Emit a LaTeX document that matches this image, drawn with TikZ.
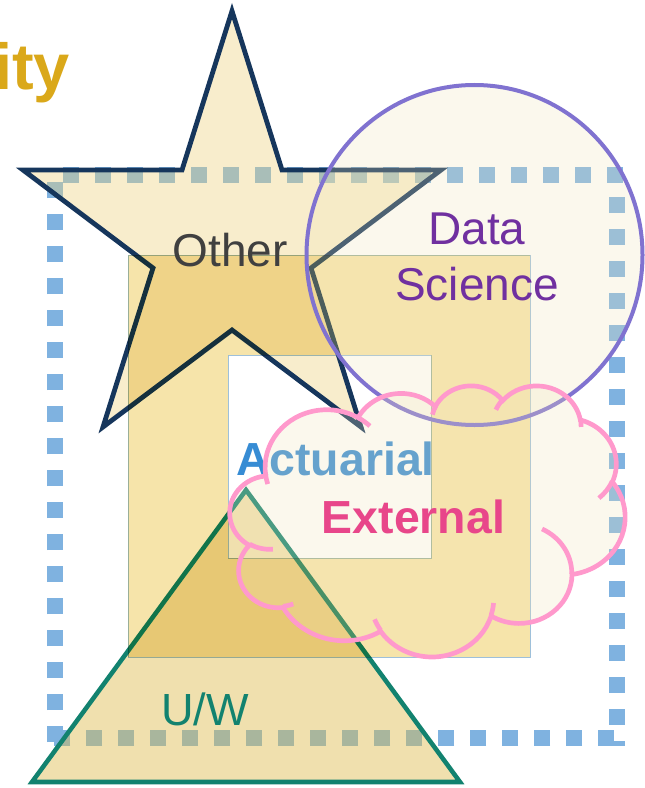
\documentclass[tikz,border=0pt]{standalone}
\usepackage{fontspec}
\setmainfont{Liberation Sans}
\definecolor{goldtxt}{RGB}{218,168,26}
\definecolor{othertxt}{RGB}{64,64,64}
\definecolor{dstxt}{RGB}{112,48,160}
\definecolor{acttxt}{RGB}{55,140,212}
\definecolor{exttxt}{RGB}{232,70,138}
\definecolor{uwtxt}{RGB}{18,130,111}
\definecolor{starline}{RGB}{22,54,92}
\definecolor{starfill}{RGB}{239,210,121}
\definecolor{trifill}{RGB}{222,188,77}
\definecolor{rectfill}{RGB}{246,228,170}
\definecolor{rectline}{RGB}{160,196,228}
\definecolor{circline}{RGB}{128,114,208}
\definecolor{cloudline}{RGB}{255,153,204}
\definecolor{veil}{RGB}{243,231,187}
\definecolor{dotblue}{RGB}{127,178,224}
\newcommand\cvt[5]{%
  \pgfmathsetmacro\cvtA{atan2((#2)*sin(#4),(#3)*cos(#4))}%
  \pgfmathsetmacro\cvtB{atan2((#2)*sin((#4)+(#5)),(#3)*cos((#4)+(#5)))}%
  \pgfmathsetmacro\cvtD{\cvtB-(\cvtA)}%
  \pgfmathsetmacro\cvtD{ifthenelse(\cvtD<0,\cvtD+360,\cvtD)}%
  \expandafter\xdef\csname #1\endcsname{arc[start angle=\cvtA, delta angle=\cvtD, x radius=#2, y radius=#3]}%
}
\begin{document}
\begin{tikzpicture}[x=0.75pt,y=-0.75pt,
  lbl/.style={anchor=base, inner sep=0pt, font=\fontsize{34.5}{42}\selectfont},
  boldlbl/.style={lbl, font=\fontsize{34.8}{42}\selectfont\bfseries},
  dotline/.style={draw=dotblue, line width=11.5pt, dash pattern=on 12pt off 12pt},
  framestyle/.style={fill=rectfill, even odd rule, draw=rectline, line width=0.75pt},
  starstyle/.style={fill=starfill, fill opacity=0.38, draw=starline, line width=3.6pt, line join=miter},
  tristyle/.style={fill=trifill, fill opacity=0.45, draw=uwtxt, line width=3.4pt, line join=miter},
  circstyle/.style={fill=veil, fill opacity=0.25, draw=circline, line width=3pt},
  cloudstyle/.style={fill=veil, fill opacity=0.25, draw=cloudline, line width=3.5pt},
  cloudinner/.style={draw=cloudline, line width=3.5pt}]
\useasboundingbox (0,0) rectangle (644,788);
\fill[white] (0,0) rectangle (644,788);
% cloud arcs (OOXML cloud geometry, visual angles converted to parametric)
\cvt{cA}{67.53}{91.90}{-190.4875}{123.7805}
\cvt{cB}{53.33}{72.67}{-144.1024}{89.9452}
\cvt{cC}{43.65}{59.45}{-145.8079}{99.7230}
\cvt{cD}{48.57}{65.95}{-130.9861}{117.2417}
\cvt{cE}{53.33}{72.73}{-78.7089}{109.0269}
\cvt{cF}{67.75}{92.20}{-46.2673}{130.2690}
\cvt{cG}{57.85}{78.67}{0.6250}{114.0333}
\cvt{cH}{67.52}{92.15}{22.4516}{115.1726}
\cvt{cI}{77.20}{105.43}{66.2426}{75.7110}
\cvt{cJ}{43.60}{59.18}{-274.9421}{146.7356}
\cvt{cK}{43.45}{59.45}{-246.8285}{152.5189}
\cvt{iA}{43.45}{59.45}{86.7420}{26.4295}
\cvt{iB}{43.60}{59.18}{73.6105}{11.4475}
\cvt{iC}{67.52}{92.15}{137.6242}{14.0811}
\cvt{iD}{67.52}{92.15}{6.4533}{15.9984}
\cvt{iE}{57.85}{78.67}{-70.2924}{70.9174}
\cvt{iF}{53.33}{72.73}{30.3180}{27.7515}
\cvt{iG}{48.57}{65.95}{-13.7443}{14.8589}
\cvt{iH}{48.57}{65.95}{-149.1815}{18.1954}
\cvt{iI}{43.65}{59.45}{-163.4943}{17.6864}
\cvt{iJ}{67.53}{91.90}{-66.7070}{12.3194}
\cvt{iK}{67.53}{91.90}{157.6544}{11.8582}
% title fragment
\node[anchor=base west, inner sep=0pt, text=goldtxt, font=\fontsize{48.75}{58}\selectfont\bfseries] (title) at (-6,90) {ity};
% dotted frame
\draw[dotline, dash phase=12pt] (47,175) -- (625,175);
\draw[dotline, dash phase=12pt] (617,181) -- (617,746);
\draw[dotline, dash phase=15.75pt] (625,738) -- (47,738);
\draw[dotline, dash phase=0pt] (55,742) -- (55,182);
% star and triangle
\path[starstyle] (232,11) -- (282,170) -- (441,170) -- (311,268) -- (361,427) -- (232,330) -- (103,427) -- (153,268) -- (23,170) -- (182,170) -- cycle;
\path[tristyle] (246,490) -- (460,782) -- (32,782) -- cycle;
% square frame with a square hole (multiply)
\begin{scope}[blend mode=multiply]
\path[framestyle] (128,255) rectangle (530,657) (228,355) rectangle (431,558);
\end{scope}
\node[lbl, text=othertxt] (other) at (230,266) {Other};
\node[lbl, text=uwtxt, font=\fontsize{33.8}{40}\selectfont] (uw) at (205,725) {U/W};
% circle
\path[circstyle] (474.5,255) ellipse [x radius=168, y radius=170];
\node[lbl, text=dstxt, align=center] (ds) at (477,300) {Data\\Science};
% actuarial
\node[boldlbl, text=acttxt] (act) at (335.5,475) {Actuarial};
% cloud
\begin{scope}[shift={(230,385)}, x=0.68576pt, y=-0.47049pt]
\path[cloudstyle] (39.00,143.70) \cA \cB \cC \cD \cE \cF \cG \cH \cI \cJ \cK -- cycle;
\draw[cloudinner] (46.93,261.77) \iA (69.28,348.99) \iB (164.78,390.90) \iC
  (288.27,347.51) \iD (341.29,229.54) \iE (417.98,153.54) \iF (383.24,54.26) \iG
  (290.78,39.52) \iH (221.41,47.20) \iI (140.00,51.92) \iJ (41.27,157.89) \iK;
\end{scope}
\node[boldlbl, text=exttxt] (ext) at (413.5,533) {External};
\end{tikzpicture}
\end{document}
